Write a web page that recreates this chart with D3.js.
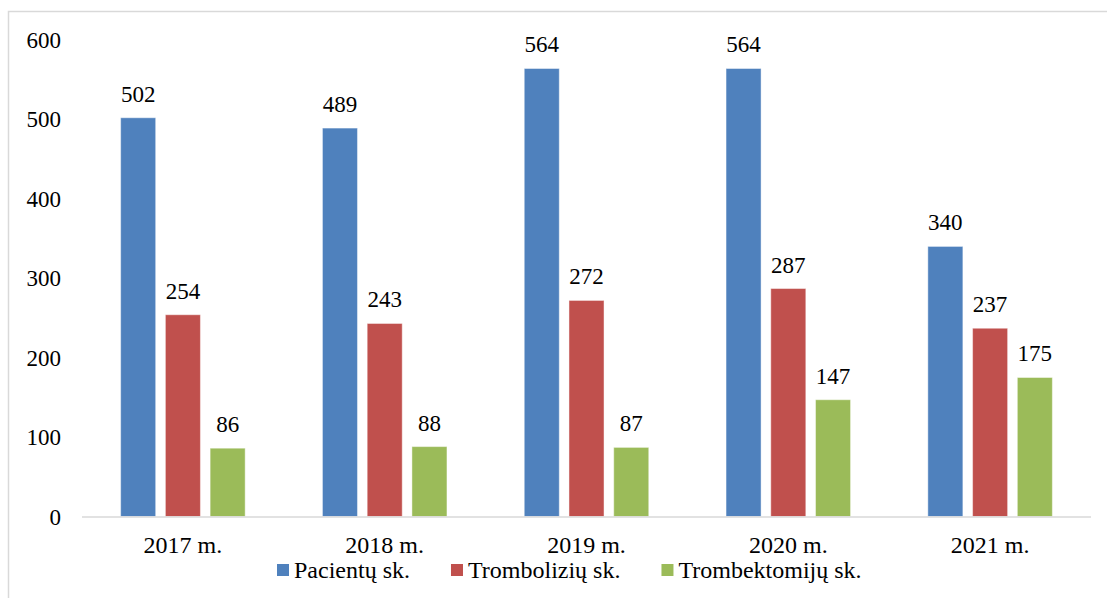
<!DOCTYPE html>
<html>
<head>
<meta charset="utf-8">
<script src="https://cdn.jsdelivr.net/npm/d3@7"></script>
<style>
  html, body { margin: 0; padding: 0; background: #fff; }
  svg { display: block; }
</style>
</head>
<body>
<svg id="chart" width="1107" height="598"></svg>
<script>
const categories = ["2017 m.", "2018 m.", "2019 m.", "2020 m.", "2021 m."];
const seriesNames = ["Pacientų sk.", "Trombolizių sk.", "Trombektomijų sk."];
const pacientai = [502, 489, 564, 564, 340];
const trombolizes = [254, 243, 272, 287, 237];
const trombektomijos = [86, 88, 87, 147, 175];
const yTicks = [0, 100, 200, 300, 400, 500, 600];
const colors = ["#4F81BD", "#C0504D", "#9BBB59"];

const seriesValues = [pacientai, trombolizes, trombektomijos];
const FONT = "'Liberation Serif', 'Times New Roman', serif";

const svg = d3.select("#chart");

// chart frame
svg.append("rect")
  .attr("x", 8.5).attr("y", 11.5)
  .attr("width", 1200).attr("height", 700)
  .attr("fill", "none").attr("stroke", "#d9d9d9").attr("stroke-width", 1.5);

const plotLeft = 82, plotRight = 1091, baseY = 516.5, topY = 39.9;

const x0 = d3.scaleBand().domain(categories).range([plotLeft, plotRight])
  .paddingInner(0.383).paddingOuter(0.1915);
const x1 = d3.scaleBand().domain(seriesNames).range([0, x0.bandwidth()])
  .paddingInner(0.217).paddingOuter(0);
const y = d3.scaleLinear().domain([0, 600]).range([baseY, topY]);

// y axis labels
const yAxis = d3.axisLeft(y).tickValues(yTicks).tickSize(0).tickPadding(0).tickFormat(d3.format("d"));
const yg = svg.append("g").attr("transform", `translate(61,0)`).call(yAxis);
yg.select(".domain").remove();
yg.attr("font-family", null).attr("font-size", null);
yg.selectAll("text")
  .style("font-family", FONT)
  .style("font-size", "23px").attr("fill", "#000").attr("dy", "0.33em");

// bars
const groups = svg.append("g").selectAll("g")
  .data(categories).join("g")
  .attr("transform", d => `translate(${x0(d)},0)`);

groups.each(function(cat, ci) {
  const g = d3.select(this);
  seriesNames.forEach((s, si) => {
    const v = seriesValues[si][ci];
    g.append("rect")
      .attr("x", x1(s)).attr("y", y(v))
      .attr("width", x1.bandwidth()).attr("height", baseY - y(v))
      .attr("fill", colors[si])
      .attr("stroke", "rgba(255,255,255,0.45)").attr("stroke-width", 1);
    g.append("text")
      .attr("x", x1(s) + x1.bandwidth() / 2)
      .attr("y", y(v) - 16)
      .attr("text-anchor", "middle")
      .style("font-family", FONT)
      .style("font-size", "23px")
      .attr("fill", "#000")
      .text(v);
  });
});

// baseline
svg.append("line")
  .attr("x1", plotLeft).attr("x2", plotRight)
  .attr("y1", baseY + 0.5).attr("y2", baseY + 0.5)
  .attr("stroke", "#d9d9d9").attr("stroke-width", 1.5);

// x axis labels
const xAxis = d3.axisBottom(x0).tickSize(0).tickPadding(0);
const xg = svg.append("g").attr("transform", `translate(0,${baseY})`).call(xAxis);
xg.select(".domain").remove();
xg.attr("font-family", null).attr("font-size", null);
xg.selectAll("text")
  .style("font-family", FONT)
  .style("font-size", "24px").attr("fill", "#000")
  .attr("dy", null).attr("y", 36);

// legend
const legend = svg.append("g");
let lx = 277;
seriesNames.forEach((s, i) => {
  legend.append("rect")
    .attr("x", lx).attr("y", 564).attr("width", 12).attr("height", 12)
    .attr("fill", colors[i]);
  const t = legend.append("text")
    .attr("x", lx + 17).attr("y", 577.5)
    .style("font-family", FONT)
    .style("font-size", "24px")
    .attr("fill", "#000")
    .text(s);
  const w = t.node().getComputedTextLength();
  lx = lx + 17 + w + 41;
});
</script>
</body>
</html>
